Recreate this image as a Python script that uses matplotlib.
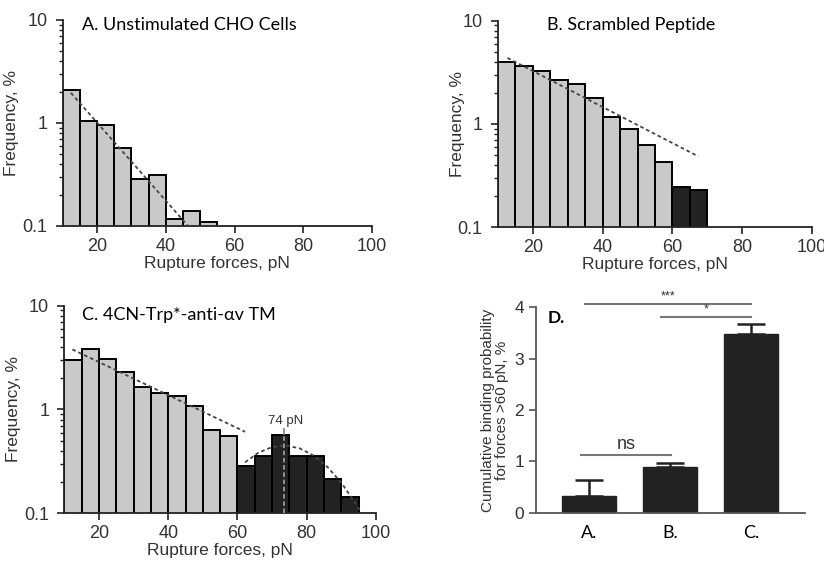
import matplotlib
matplotlib.use("Agg")
import matplotlib.pyplot as plt
from matplotlib.ticker import LogLocator, NullFormatter, FixedLocator

plt.rcParams["font.family"] = ["Liberation Sans", "DejaVu Sans"]

# Histogram bins (left edges, pN), 5 pN wide
bins_a = [10, 15, 20, 25, 30, 35, 40, 45, 50]
freq_a = [2.08, 1.04, 0.96, 0.575, 0.287, 0.314, 0.117, 0.141, 0.109]
dark_a = [False] * 9

bins_b = [10, 15, 20, 25, 30, 35, 40, 45, 50, 55, 60, 65]
freq_b = [4.01, 3.67, 3.23, 2.69, 2.46, 1.80, 1.17, 0.888, 0.622, 0.432, 0.247, 0.228]
dark_b = [False] * 10 + [True] * 2

bins_c = [10, 15, 20, 25, 30, 35, 40, 45, 50, 55, 60, 65, 70, 75, 80, 85, 90]
freq_c = [3.01, 3.79, 3.08, 2.29, 1.64, 1.44, 1.36, 1.08, 0.641, 0.561,
          0.284, 0.355, 0.57, 0.355, 0.355, 0.214, 0.143]
dark_c = [False] * 10 + [True] * 7

# dashed fit lines
fit_a_x = [12.4, 46.5]
fit_a_y = [1.96, 0.1]
fit_b_x = [12.7, 67.4]
fit_b_y = [4.36, 0.486]
fit_c_x = [12.3, 62.2]
fit_c_y = [3.79, 0.61]
gauss_x = [62.2, 66, 70, 74, 78, 82, 86, 90, 94, 95.8]
gauss_y = [0.31, 0.383, 0.435, 0.45, 0.422, 0.36, 0.279, 0.197, 0.126, 0.1]
peak_force = 73.3

# panel D
groups = ["A.", "B.", "C."]
cum_prob = [0.33, 0.89, 3.49]
cum_err = [0.31, 0.08, 0.185]

light = "#c9c9c9"
dark = "#222222"
txt = "#333333"

fig = plt.figure(figsize=(8.24, 5.63), dpi=100)
ax_a = fig.add_axes([0.076, 0.5986, 0.3755, 0.366])
ax_b = fig.add_axes([0.6044, 0.5963, 0.381, 0.367])
ax_c = fig.add_axes([0.0782, 0.0883, 0.378, 0.3687])
ax_d = fig.add_axes([0.6505, 0.0893, 0.3265, 0.3648])


def hist_panel(ax, bins, freq, darks, title, tx, ty, labx):
    cols = [dark if d else light for d in darks]
    ax.bar(bins, freq, width=5, align="edge", color=cols,
           edgecolor="black", linewidth=1.4, zorder=2)
    ax.set_yscale("log")
    ax.set_ylim(0.1, 10)
    ax.set_xlim(10, 100)
    ax.xaxis.set_major_locator(FixedLocator([20, 40, 60, 80, 100]))
    ax.yaxis.set_major_locator(FixedLocator([0.1, 1, 10]))
    ax.set_yticklabels(["0.1", "1", "10"])
    ax.yaxis.set_minor_locator(LogLocator(base=10, subs=range(2, 10)))
    ax.yaxis.set_minor_formatter(NullFormatter())
    for s in ["top", "right"]:
        ax.spines[s].set_visible(False)
    for s in ["left", "bottom"]:
        ax.spines[s].set_linewidth(1.3)
        ax.spines[s].set_color("#222222")
    ax.tick_params(which="major", length=5, width=1.2, labelsize=13,
                   colors="#222222", labelcolor=txt)
    ax.tick_params(axis="y", which="major", pad=6)
    ax.tick_params(which="minor", length=3, width=1.0, colors="#222222")
    ax.set_xlabel("Rupture forces, pN", fontsize=12.5, color=txt, labelpad=1)
    ax.set_ylabel("Frequency, %", fontsize=12.5, color=txt)
    ax.yaxis.set_label_coords(labx, 0.5)
    ax.text(tx, ty, title, transform=ax.transAxes, fontsize=13,
            family="Lato", va="center", ha="left", color="black")


hist_panel(ax_a, bins_a, freq_a, dark_a, "A. Unstimulated CHO Cells", 0.063, 0.976, -0.142)
ax_a.plot(fit_a_x, fit_a_y, color="#444444", lw=1.3, ls=(0, (2, 1.6)), zorder=3)

hist_panel(ax_b, bins_b, freq_b, dark_b, "B. Scrambled Peptide", 0.155, 0.979, -0.105)
ax_b.plot(fit_b_x, fit_b_y, color="#444444", lw=1.3, ls=(0, (2, 1.6)), zorder=3)

hist_panel(ax_c, bins_c, freq_c, dark_c, "C. 4CN-Trp*-anti-\u03b1v TM", 0.0555, 0.955, -0.14)
ax_c.plot(fit_c_x, fit_c_y, color="#444444", lw=1.3, ls=(0, (2, 1.6)), zorder=3)
ax_c.plot(gauss_x, gauss_y, color="#444444", lw=1.3, ls=(0, (2, 1.6)), zorder=3)
ax_c.plot([peak_force, peak_force], [0.1, 0.57], color="#9a9a9a", lw=1.3,
          ls=(0, (2.5, 1.5)), zorder=4)
ax_c.plot([peak_force, peak_force], [0.575, 0.65], color="#888888", lw=1.3, zorder=4)
ax_c.text(peak_force + 0.5, 0.78, "74 pN", fontsize=9.5, color=txt,
          ha="center", va="center")

# panel D
xs = range(len(groups))
ax_d.bar(xs, cum_prob, width=0.66, color=dark, edgecolor=dark, zorder=2)
ax_d.errorbar(xs, cum_prob, yerr=[[0] * 3, cum_err], fmt="none",
              ecolor=dark, elinewidth=1.8, capsize=10, capthick=1.8, zorder=1)
ax_d.set_xlim(-0.654, 2.667)
ax_d.set_ylim(0, 4)
ax_d.set_yticks([0, 1, 2, 3, 4])
ax_d.set_xticks(list(xs))
ax_d.set_xticklabels(groups, family="Lato", fontsize=13, color="black")
ax_d.tick_params(axis="x", length=0, pad=9)
ax_d.tick_params(axis="y", length=5, width=1.2, colors="#555555",
                 labelcolor=txt, labelsize=12.5)
for s in ["top", "right"]:
    ax_d.spines[s].set_visible(False)
for s in ["left", "bottom"]:
    ax_d.spines[s].set_linewidth(1.3)
    ax_d.spines[s].set_color("#555555")
ax_d.set_ylabel("Cumulative binding probability\nfor forces >60 pN, %",
                fontsize=11, color=txt, linespacing=1.05)
ax_d.yaxis.set_label_coords(-0.1, 0.5)
ax_d.text(0.045, 0.948, "D.", transform=ax_d.transAxes, family="Lato",
          fontsize=12.5, fontweight="bold", va="center")

sig_col = "#777777"
ax_d.plot([-0.054, 2.0], [4.065, 4.065], color=sig_col, lw=1.5, clip_on=False)
ax_d.text(0.973, 4.09, "***", ha="center", va="bottom", fontsize=9, color=txt)
ax_d.plot([0.884, 2.0], [3.82, 3.82], color=sig_col, lw=1.5, clip_on=False)
ax_d.text(1.442, 3.845, "*", ha="center", va="bottom", fontsize=9, color=txt)
ax_d.plot([-0.10, 1.01], [1.13, 1.13], color=sig_col, lw=1.5)
ax_d.text(0.455, 1.17, "ns", ha="center", va="bottom", fontsize=13, color=txt)

fig.savefig("out.png", dpi=100)
